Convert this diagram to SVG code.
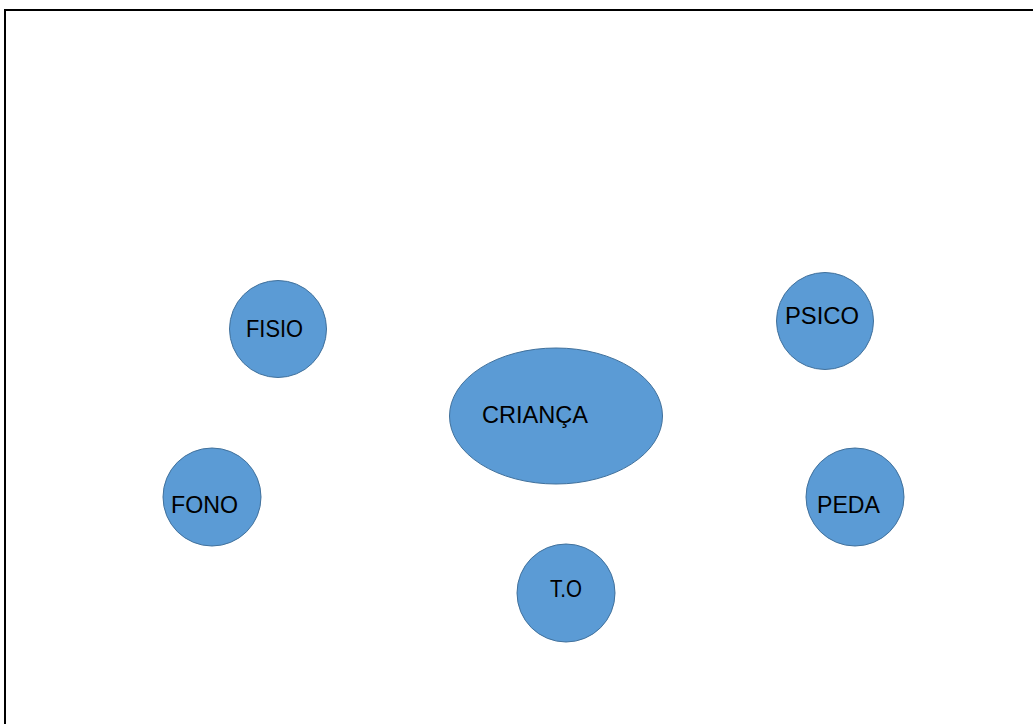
<svg xmlns="http://www.w3.org/2000/svg" width="1033" height="724" viewBox="0 0 1033 724">
  <style>
    .bubble { fill: #5b9bd5; stroke: #41719c; stroke-width: 1; }
    .label { font-family: "Liberation Sans", Arial, sans-serif; font-size: 23px; fill: #000; }
  </style>
  <rect x="0" y="0" width="1033" height="724" fill="#ffffff"/>
  <!-- page frame: top and left edges -->
  <path d="M5 730 V10 H1040" fill="none" stroke="#000" stroke-width="2"/>

  <g id="connectors"></g>

  <g id="crianca">
    <ellipse class="bubble" cx="556" cy="416" rx="106.5" ry="68"/>
    <text class="label" x="482" y="423" textLength="106" lengthAdjust="spacingAndGlyphs">CRIANÇA</text>
  </g>
  <g id="fisio">
    <circle class="bubble" cx="278" cy="329" r="48.5"/>
    <text class="label" x="246" y="337" textLength="57" lengthAdjust="spacingAndGlyphs">FISIO</text>
  </g>
  <g id="fono">
    <circle class="bubble" cx="212" cy="497" r="49"/>
    <text class="label" x="171" y="513" textLength="67" lengthAdjust="spacingAndGlyphs">FONO</text>
  </g>
  <g id="to">
    <circle class="bubble" cx="566" cy="593" r="49"/>
    <text class="label" x="550" y="597" textLength="32" lengthAdjust="spacingAndGlyphs">T.O</text>
  </g>
  <g id="psico">
    <circle class="bubble" cx="825" cy="321" r="48.5"/>
    <text class="label" x="785" y="324" textLength="74" lengthAdjust="spacingAndGlyphs">PSICO</text>
  </g>
  <g id="peda">
    <circle class="bubble" cx="855" cy="497" r="49"/>
    <text class="label" x="817" y="513" textLength="63" lengthAdjust="spacingAndGlyphs">PEDA</text>
  </g>
</svg>
